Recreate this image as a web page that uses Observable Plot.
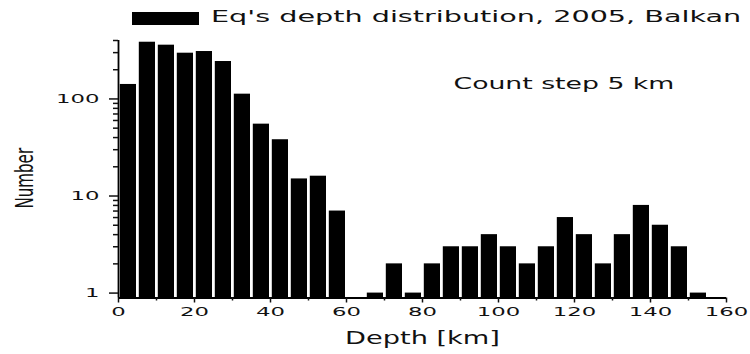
<!DOCTYPE html>
<html>
<head>
<meta charset="utf-8">
<script src="https://cdn.jsdelivr.net/npm/d3@7"></script>
<script src="https://cdn.jsdelivr.net/npm/@observablehq/plot@0.6"></script>
<style>
  html, body { margin: 0; padding: 0; background: #fff; }
  #wrap { position: relative; width: 750px; height: 354px; font-family: "DejaVu Sans", sans-serif; }
  #legend { position: absolute; left: 0; top: 0; width: 750px; height: 36px; }
  #legend .sw { position: absolute; left: 132px; top: 12px; width: 67px; height: 13px; background: #000; }
  #legend .lt { position: absolute; left: 211px; top: 8px; font-size: 15px; line-height: 18px; color: #111; white-space: nowrap; transform-origin: left center; transform: scaleX(1.91); }
  #chart { position: absolute; left: 0; top: 0; }
</style>
</head>
<body>
<div id="wrap">
  <div id="chart"></div>
  <div id="legend"><span class="sw"></span><span class="lt" id="legendText"></span></div>
</div>
<script>
// ---- data ----
const binStarts = [0,5,10,15,20,25,30,35,40,45,50,55,60,65,70,75,80,85,90,95,100,105,110,115,120,125,130,135,140,145,150];
const counts    = [141,384,358,296,308,243,112,55,38,15,16,7,0,1,2,1,2,3,3,4,3,2,3,6,4,2,4,8,5,3,1];
const binStep = 5;
const xMajorTicks = [0,20,40,60,80,100,120,140,160];
const xMinorTicks = [10,30,50,70,90,110,130,150];
const yMajorTicks = [1,10,100];
const yMinorTicks = [2,3,4,5,6,7,8,9,20,30,40,50,60,70,80,90,200,300,400];
const xDomain = [0,160];
const yDomain = [0.89,400];
const legendLabel = "Eq's depth distribution, 2005, Balkan";
const noteLabel = "Count step 5 km";
const xLabel = "Depth [km]";
const yLabel = "Number";

const table = binStarts
  .map((s, i) => ({x1: s, x2: s + binStep, count: counts[i]}))
  .filter(d => d.count > 0);

document.getElementById("legendText").textContent = legendLabel;

const chart = Plot.plot({
  width: 750,
  height: 354,
  marginLeft: 118,
  marginRight: 24,
  marginTop: 40,
  marginBottom: 56.5,
  style: {fontFamily: "DejaVu Sans, sans-serif", color: "#111", background: "#fff"},
  x: {domain: xDomain},
  y: {type: "log", domain: yDomain},
  marks: [
    Plot.rect(table, {x1: "x1", x2: "x2", y1: () => yDomain[0], y2: "count", fill: "#000", insetLeft: 1.8, insetRight: 1}),
    Plot.ruleX([xDomain[0]], {stroke: "#000", strokeWidth: 1.8}),
    Plot.ruleY([yDomain[0]], {stroke: "#000", strokeWidth: 1.8}),
    Plot.axisY(yMajorTicks, {tickSize: 9, tickPadding: 10, fontSize: 13, label: null, tickFormat: d => String(d), strokeWidth: 1.5}),
    Plot.axisY(yMinorTicks, {tickSize: 5, tickFormat: () => "", label: null, strokeWidth: 1.5}),
    Plot.axisX(xMajorTicks, {tickSize: 5, tickPadding: 4, fontSize: 13, label: null, tickFormat: d => String(d), strokeWidth: 1.5}),
    Plot.axisX(xMinorTicks, {tickSize: 3, tickFormat: () => "", label: null, strokeWidth: 1.5}),
    Plot.text([xLabel], {frameAnchor: "bottom", dy: 40.5, fontSize: 17, textAnchor: "middle", lineAnchor: "middle"}),
    Plot.text([yLabel], {frameAnchor: "left", dx: -86, dy: 9, rotate: -90, fontSize: 24, textAnchor: "middle", lineAnchor: "bottom"}),
    Plot.text([noteLabel], {frameAnchor: "top-left", dx: 335, dy: 44, fontSize: 15, textAnchor: "start", lineAnchor: "middle"})
  ]
});
document.getElementById("chart").appendChild(chart);

// horizontal stretch of the text glyphs (reference uses a wide typeface)
function stretchEl(t, s) {
  const tr = t.getAttribute("transform") || "";
  const x = parseFloat(t.getAttribute("x")) || 0;
  t.setAttribute("transform", `${tr} translate(${x},0) scale(${s},1) translate(${-x},0)`);
}
const factors = {[xLabel]: 1.6, [yLabel]: 0.63, [noteLabel]: 1.78};
chart.querySelectorAll("text").forEach(t => {
  const s = t.textContent;
  if (!s) return;
  if (factors[s] !== undefined) stretchEl(t, factors[s]);
  else if (/^\d+$/.test(s)) stretchEl(t, 1.75);
});
</script>
</body>
</html>
